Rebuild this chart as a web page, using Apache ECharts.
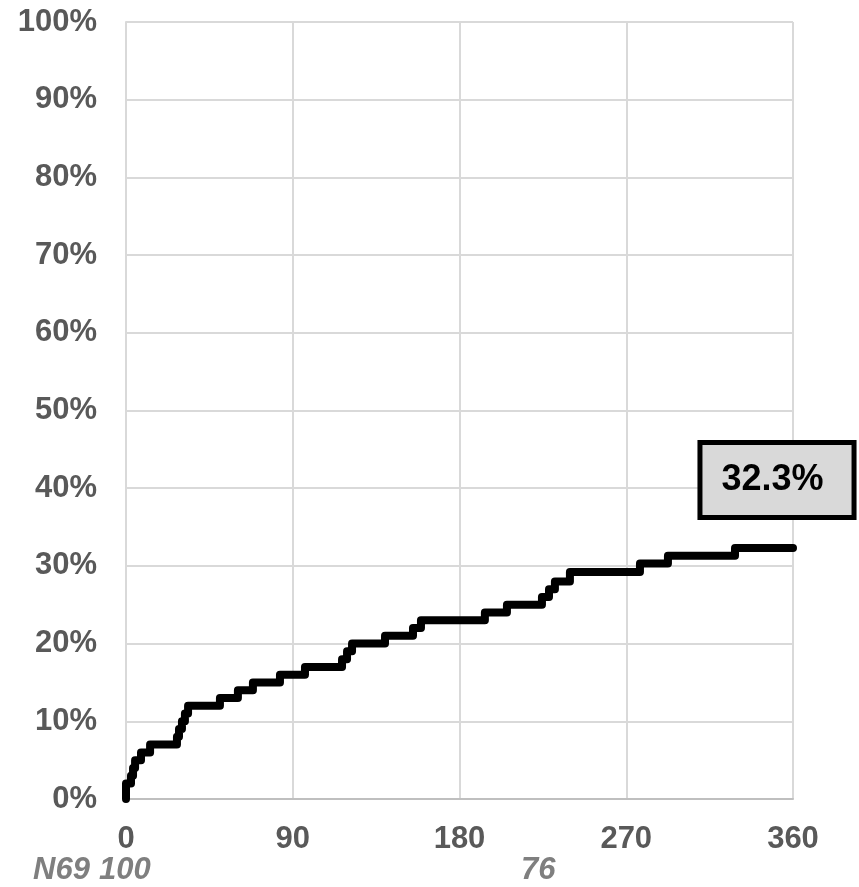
<!DOCTYPE html>
<html>
<head>
<meta charset="utf-8">
<script src="https://cdn.jsdelivr.net/npm/echarts@6/dist/echarts.min.js"></script>
<style>
  html, body { margin: 0; padding: 0; background: #fff; }
  #chart { width: 859px; height: 887px; }
</style>
</head>
<body>
<div id="chart"></div>
<script>
// step curve: day of each event and cumulative % after it
var days = [0, 0, 2.7, 3.8, 4.9, 8.1, 13, 27.5, 28.6, 30.2, 31.8, 33.5, 50.7, 60.4, 68.5, 83.1,
  96.6, 116.6, 119.3, 122, 139.8, 154.9, 159.2, 193.7, 205.6, 224.5, 228.3, 231.5, 239.6,
  277.4, 292.5, 328.7, 360];
var pct = [0, 2, 3, 4, 5, 6, 7, 8, 9, 10, 11, 12, 13, 14, 15, 16,
  17, 18, 19, 20, 21, 22, 23, 24, 25, 26, 27, 28, 29.2,
  30.3, 31.3, 32.3, 32.3];
var xTicks = [0, 90, 180, 270, 360];
var yTicks = [0, 10, 20, 30, 40, 50, 60, 70, 80, 90, 100];
var finalLabel = "32.3%";
var riskRow = [
  { text: "N69", x: 33 },
  { text: "100", x: 99 },
  { text: "76", x: 521 }
];

var points = [];
for (var i = 0; i < days.length; i++) {
  points.push([days[i], pct[i]]);
}

var labelFont = {
  fontFamily: "Liberation Sans, Arial, sans-serif",
  fontWeight: "bold",
  fontSize: 31,
  color: "#595959"
};

var chart = echarts.init(document.getElementById("chart"));
chart.setOption({
  animation: false,
  grid: { left: 126, right: 66, top: 22, bottom: 88 },
  xAxis: {
    type: "value",
    min: xTicks[0],
    max: xTicks[xTicks.length - 1],
    interval: 90,
    axisLine: { show: true, onZero: false, lineStyle: { color: "#bfbfbf", width: 2 } },
    axisTick: { show: false },
    splitLine: { show: true, lineStyle: { color: "#d9d9d9", width: 2 } },
    axisLabel: Object.assign({ margin: 25 }, labelFont)
  },
  yAxis: {
    type: "value",
    min: yTicks[0],
    max: yTicks[yTicks.length - 1],
    interval: 10,
    axisLine: { show: true, lineStyle: { color: "#d9d9d9", width: 2 } },
    axisTick: { show: false },
    splitLine: { show: true, lineStyle: { color: "#d9d9d9", width: 2 } },
    axisLabel: Object.assign({ margin: 29, formatter: "{value}%" }, labelFont)
  },
  series: [
    {
      type: "line",
      step: "end",
      data: points,
      showSymbol: false,
      lineStyle: { color: "#000", width: 8, cap: "round", join: "round" },
      markPoint: {
        symbol: "rect",
        symbolSize: 0,
        data: [
          {
            coord: [days[days.length - 1], pct[pct.length - 1]],
            label: {
              show: true,
              position: "top",
              distance: 33,
              offset: [-16, 0],
              formatter: finalLabel,
              fontFamily: "Liberation Sans, Arial, sans-serif",
              fontWeight: "bold",
              fontSize: 36,
              color: "#000",
              backgroundColor: "#d9d9d9",
              borderColor: "#000",
              borderWidth: 5,
              padding: [17, 28, 17, 19]
            }
          }
        ]
      }
    }
  ],
  graphic: riskRow.map(function (r) {
    return {
      type: "text",
      left: r.x,
      top: 855,
      style: {
        text: r.text,
        fontFamily: "Liberation Sans, Arial, sans-serif",
        fontStyle: "italic",
        fontWeight: "bold",
        fontSize: 31,
        fill: "#7f7f7f"
      }
    };
  })
});
</script>
</body>
</html>
